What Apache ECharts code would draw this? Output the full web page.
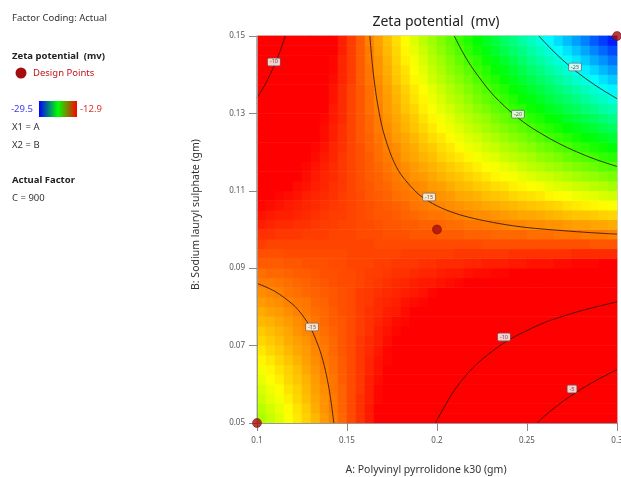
<!DOCTYPE html>
<html><head><meta charset="utf-8">
<script src="https://cdn.jsdelivr.net/npm/echarts@6/dist/echarts.min.js"></script>
<style>html,body{margin:0;padding:0;background:#fff}#c{width:621px;height:477px}</style>
</head><body><div id="c"></div>
<script>
// Axis ticks
const xTicks = [0.1, 0.15, 0.2, 0.25, 0.3];
const yTicks = [0.05, 0.07, 0.09, 0.11, 0.13, 0.15];
// Grid cell centres (A across, B up)
const cellA = [0.1025,0.1075,0.1125,0.1175,0.1225,0.1275,0.1325,0.1375,0.1425,0.1475,0.1525,0.1575,0.1625,0.1675,0.1725,0.1775,0.1825,0.1875,0.1925,0.1975,0.2025,0.2075,0.2125,0.2175,0.2225,0.2275,0.2325,0.2375,0.2425,0.2475,0.2525,0.2575,0.2625,0.2675,0.2725,0.2775,0.2825,0.2875,0.2925,0.2975];
const cellB = [0.05125,0.05375,0.05625,0.05875,0.06125,0.06375,0.06625,0.06875,0.07125,0.07375,0.07625,0.07875,0.08125,0.08375,0.08625,0.08875,0.09125,0.09375,0.09625,0.09875,0.10125,0.10375,0.10625,0.10875,0.11125,0.11375,0.11625,0.11875,0.12125,0.12375,0.12625,0.12875,0.13125,0.13375,0.13625,0.13875,0.14125,0.14375,0.14625,0.14875];
// Zeta potential (mv) read from the surface; rows from bottom (B=0.05125) to top (B=0.14875)
const zGrid = [
[-18.4,-18.0,-17.6,-17.1,-16.7,-16.3,-15.9,-15.4,-15.0,-14.6,-14.1,-13.7,-13.3,-12.8,-12.4,-12.0,-11.5,-11.1,-10.7,-10.3,-9.8,-9.4,-9.0,-8.5,-8.1,-7.7,-7.2,-6.8,-6.4,-6.0,-5.5,-5.1,-4.7,-4.2,-3.8,-3.4,-2.9,-2.5,-2.1,-1.6],
[-18.2,-17.8,-17.4,-17.0,-16.6,-16.2,-15.7,-15.3,-14.9,-14.5,-14.1,-13.7,-13.3,-12.9,-12.5,-12.1,-11.7,-11.3,-10.9,-10.5,-10.1,-9.7,-9.3,-8.8,-8.4,-8.0,-7.6,-7.2,-6.8,-6.4,-6.0,-5.6,-5.2,-4.8,-4.4,-4.0,-3.6,-3.2,-2.8,-2.4],
[-17.9,-17.5,-17.2,-16.8,-16.4,-16.0,-15.6,-15.3,-14.9,-14.5,-14.1,-13.7,-13.4,-13.0,-12.6,-12.2,-11.8,-11.4,-11.1,-10.7,-10.3,-9.9,-9.5,-9.2,-8.8,-8.4,-8.0,-7.6,-7.2,-6.9,-6.5,-6.1,-5.7,-5.3,-5.0,-4.6,-4.2,-3.8,-3.4,-3.0],
[-17.7,-17.3,-17.0,-16.6,-16.3,-15.9,-15.5,-15.2,-14.8,-14.5,-14.1,-13.8,-13.4,-13.0,-12.7,-12.3,-12.0,-11.6,-11.3,-10.9,-10.5,-10.2,-9.8,-9.5,-9.1,-8.8,-8.4,-8.0,-7.7,-7.3,-7.0,-6.6,-6.3,-5.9,-5.5,-5.2,-4.8,-4.5,-4.1,-3.8],
[-17.4,-17.1,-16.8,-16.4,-16.1,-15.8,-15.4,-15.1,-14.8,-14.4,-14.1,-13.8,-13.4,-13.1,-12.8,-12.4,-12.1,-11.8,-11.4,-11.1,-10.8,-10.4,-10.1,-9.8,-9.4,-9.1,-8.8,-8.4,-8.1,-7.8,-7.4,-7.1,-6.8,-6.5,-6.1,-5.8,-5.5,-5.1,-4.8,-4.5],
[-17.2,-16.9,-16.6,-16.3,-16.0,-15.6,-15.3,-15.0,-14.7,-14.4,-14.1,-13.8,-13.5,-13.2,-12.9,-12.6,-12.3,-11.9,-11.6,-11.3,-11.0,-10.7,-10.4,-10.1,-9.8,-9.5,-9.2,-8.9,-8.6,-8.2,-7.9,-7.6,-7.3,-7.0,-6.7,-6.4,-6.1,-5.8,-5.5,-5.2],
[-16.9,-16.7,-16.4,-16.1,-15.8,-15.5,-15.2,-14.9,-14.7,-14.4,-14.1,-13.8,-13.5,-13.2,-13.0,-12.7,-12.4,-12.1,-11.8,-11.5,-11.3,-11.0,-10.7,-10.4,-10.1,-9.8,-9.5,-9.3,-9.0,-8.7,-8.4,-8.1,-7.8,-7.6,-7.3,-7.0,-6.7,-6.4,-6.1,-5.9],
[-16.7,-16.4,-16.2,-15.9,-15.6,-15.4,-15.1,-14.9,-14.6,-14.3,-14.1,-13.8,-13.6,-13.3,-13.0,-12.8,-12.5,-12.3,-12.0,-11.7,-11.5,-11.2,-11.0,-10.7,-10.4,-10.2,-9.9,-9.7,-9.4,-9.2,-8.9,-8.6,-8.4,-8.1,-7.9,-7.6,-7.3,-7.1,-6.8,-6.6],
[-16.4,-16.2,-16.0,-15.7,-15.5,-15.3,-15.0,-14.8,-14.6,-14.3,-14.1,-13.8,-13.6,-13.4,-13.1,-12.9,-12.7,-12.4,-12.2,-12.0,-11.7,-11.5,-11.3,-11.0,-10.8,-10.6,-10.3,-10.1,-9.8,-9.6,-9.4,-9.1,-8.9,-8.7,-8.4,-8.2,-8.0,-7.7,-7.5,-7.3],
[-16.2,-16.0,-15.8,-15.6,-15.3,-15.1,-14.9,-14.7,-14.5,-14.3,-14.1,-13.9,-13.7,-13.4,-13.2,-13.0,-12.8,-12.6,-12.4,-12.2,-12.0,-11.8,-11.6,-11.3,-11.1,-10.9,-10.7,-10.5,-10.3,-10.1,-9.9,-9.7,-9.4,-9.2,-9.0,-8.8,-8.6,-8.4,-8.2,-8.0],
[-15.9,-15.8,-15.6,-15.4,-15.2,-15.0,-14.8,-14.6,-14.4,-14.3,-14.1,-13.9,-13.7,-13.5,-13.3,-13.1,-13.0,-12.8,-12.6,-12.4,-12.2,-12.0,-11.8,-11.6,-11.5,-11.3,-11.1,-10.9,-10.7,-10.5,-10.3,-10.2,-10.0,-9.8,-9.6,-9.4,-9.2,-9.0,-8.8,-8.7],
[-15.7,-15.5,-15.4,-15.2,-15.0,-14.9,-14.7,-14.6,-14.4,-14.2,-14.1,-13.9,-13.7,-13.6,-13.4,-13.3,-13.1,-12.9,-12.8,-12.6,-12.4,-12.3,-12.1,-12.0,-11.8,-11.6,-11.5,-11.3,-11.1,-11.0,-10.8,-10.7,-10.5,-10.3,-10.2,-10.0,-9.9,-9.7,-9.5,-9.4],
[-15.4,-15.3,-15.2,-15.0,-14.9,-14.8,-14.6,-14.5,-14.3,-14.2,-14.1,-13.9,-13.8,-13.6,-13.5,-13.4,-13.2,-13.1,-13.0,-12.8,-12.7,-12.5,-12.4,-12.3,-12.1,-12.0,-11.9,-11.7,-11.6,-11.4,-11.3,-11.2,-11.0,-10.9,-10.8,-10.6,-10.5,-10.3,-10.2,-10.1],
[-15.2,-15.1,-15.0,-14.8,-14.7,-14.6,-14.5,-14.4,-14.3,-14.2,-14.1,-13.9,-13.8,-13.7,-13.6,-13.5,-13.4,-13.3,-13.2,-13.0,-12.9,-12.8,-12.7,-12.6,-12.5,-12.4,-12.2,-12.1,-12.0,-11.9,-11.8,-11.7,-11.6,-11.4,-11.3,-11.2,-11.1,-11.0,-10.9,-10.8],
[-14.9,-14.9,-14.8,-14.7,-14.6,-14.5,-14.4,-14.3,-14.2,-14.1,-14.1,-14.0,-13.9,-13.8,-13.7,-13.6,-13.5,-13.4,-13.3,-13.3,-13.2,-13.1,-13.0,-12.9,-12.8,-12.7,-12.6,-12.5,-12.5,-12.4,-12.3,-12.2,-12.1,-12.0,-11.9,-11.8,-11.7,-11.6,-11.6,-11.5],
[-14.7,-14.6,-14.6,-14.5,-14.4,-14.4,-14.3,-14.2,-14.2,-14.1,-14.1,-14.0,-13.9,-13.9,-13.8,-13.7,-13.7,-13.6,-13.5,-13.5,-13.4,-13.3,-13.3,-13.2,-13.1,-13.1,-13.0,-13.0,-12.9,-12.8,-12.8,-12.7,-12.6,-12.6,-12.5,-12.4,-12.4,-12.3,-12.2,-12.2],
[-14.4,-14.4,-14.4,-14.3,-14.3,-14.2,-14.2,-14.2,-14.1,-14.1,-14.0,-14.0,-14.0,-13.9,-13.9,-13.8,-13.8,-13.8,-13.7,-13.7,-13.6,-13.6,-13.6,-13.5,-13.5,-13.4,-13.4,-13.4,-13.3,-13.3,-13.2,-13.2,-13.2,-13.1,-13.1,-13.0,-13.0,-13.0,-12.9,-12.9],
[-14.2,-14.2,-14.2,-14.1,-14.1,-14.1,-14.1,-14.1,-14.1,-14.1,-14.0,-14.0,-14.0,-14.0,-14.0,-14.0,-13.9,-13.9,-13.9,-13.9,-13.9,-13.9,-13.8,-13.8,-13.8,-13.8,-13.8,-13.8,-13.7,-13.7,-13.7,-13.7,-13.7,-13.7,-13.7,-13.6,-13.6,-13.6,-13.6,-13.6],
[-13.9,-14.0,-14.0,-14.0,-14.0,-14.0,-14.0,-14.0,-14.0,-14.0,-14.0,-14.0,-14.0,-14.1,-14.1,-14.1,-14.1,-14.1,-14.1,-14.1,-14.1,-14.1,-14.1,-14.1,-14.1,-14.2,-14.2,-14.2,-14.2,-14.2,-14.2,-14.2,-14.2,-14.2,-14.2,-14.2,-14.2,-14.3,-14.3,-14.3],
[-13.7,-13.7,-13.8,-13.8,-13.8,-13.9,-13.9,-13.9,-14.0,-14.0,-14.0,-14.1,-14.1,-14.1,-14.2,-14.2,-14.2,-14.3,-14.3,-14.3,-14.4,-14.4,-14.4,-14.5,-14.5,-14.5,-14.6,-14.6,-14.6,-14.6,-14.7,-14.7,-14.7,-14.8,-14.8,-14.8,-14.9,-14.9,-14.9,-15.0],
[-13.4,-13.5,-13.6,-13.6,-13.7,-13.7,-13.8,-13.9,-13.9,-14.0,-14.0,-14.1,-14.1,-14.2,-14.3,-14.3,-14.4,-14.4,-14.5,-14.5,-14.6,-14.7,-14.7,-14.8,-14.8,-14.9,-14.9,-15.0,-15.1,-15.1,-15.2,-15.2,-15.3,-15.3,-15.4,-15.5,-15.5,-15.6,-15.6,-15.7],
[-13.2,-13.3,-13.4,-13.4,-13.5,-13.6,-13.7,-13.8,-13.9,-13.9,-14.0,-14.1,-14.2,-14.3,-14.3,-14.4,-14.5,-14.6,-14.7,-14.8,-14.8,-14.9,-15.0,-15.1,-15.2,-15.2,-15.3,-15.4,-15.5,-15.6,-15.6,-15.7,-15.8,-15.9,-16.0,-16.1,-16.1,-16.2,-16.3,-16.4],
[-13.0,-13.1,-13.2,-13.3,-13.4,-13.5,-13.6,-13.7,-13.8,-13.9,-14.0,-14.1,-14.2,-14.3,-14.4,-14.5,-14.6,-14.8,-14.9,-15.0,-15.1,-15.2,-15.3,-15.4,-15.5,-15.6,-15.7,-15.8,-15.9,-16.0,-16.1,-16.2,-16.3,-16.4,-16.6,-16.7,-16.8,-16.9,-17.0,-17.1],
[-12.7,-12.8,-13.0,-13.1,-13.2,-13.4,-13.5,-13.6,-13.7,-13.9,-14.0,-14.1,-14.3,-14.4,-14.5,-14.7,-14.8,-14.9,-15.1,-15.2,-15.3,-15.4,-15.6,-15.7,-15.8,-16.0,-16.1,-16.2,-16.4,-16.5,-16.6,-16.7,-16.9,-17.0,-17.1,-17.3,-17.4,-17.5,-17.7,-17.8],
[-12.5,-12.6,-12.8,-12.9,-13.1,-13.2,-13.4,-13.5,-13.7,-13.8,-14.0,-14.2,-14.3,-14.5,-14.6,-14.8,-14.9,-15.1,-15.2,-15.4,-15.5,-15.7,-15.9,-16.0,-16.2,-16.3,-16.5,-16.6,-16.8,-16.9,-17.1,-17.2,-17.4,-17.6,-17.7,-17.9,-18.0,-18.2,-18.3,-18.5],
[-12.2,-12.4,-12.6,-12.7,-12.9,-13.1,-13.3,-13.5,-13.6,-13.8,-14.0,-14.2,-14.4,-14.5,-14.7,-14.9,-15.1,-15.3,-15.4,-15.6,-15.8,-16.0,-16.1,-16.3,-16.5,-16.7,-16.9,-17.0,-17.2,-17.4,-17.6,-17.8,-17.9,-18.1,-18.3,-18.5,-18.7,-18.8,-19.0,-19.2],
[-12.0,-12.2,-12.4,-12.6,-12.8,-13.0,-13.2,-13.4,-13.6,-13.8,-14.0,-14.2,-14.4,-14.6,-14.8,-15.0,-15.2,-15.4,-15.6,-15.8,-16.0,-16.2,-16.4,-16.6,-16.8,-17.0,-17.2,-17.4,-17.6,-17.9,-18.1,-18.3,-18.5,-18.7,-18.9,-19.1,-19.3,-19.5,-19.7,-19.9],
[-11.7,-11.9,-12.2,-12.4,-12.6,-12.8,-13.1,-13.3,-13.5,-13.8,-14.0,-14.2,-14.4,-14.7,-14.9,-15.1,-15.4,-15.6,-15.8,-16.0,-16.3,-16.5,-16.7,-16.9,-17.2,-17.4,-17.6,-17.9,-18.1,-18.3,-18.5,-18.8,-19.0,-19.2,-19.5,-19.7,-19.9,-20.1,-20.4,-20.6],
[-11.5,-11.7,-12.0,-12.2,-12.5,-12.7,-13.0,-13.2,-13.5,-13.7,-14.0,-14.2,-14.5,-14.7,-15.0,-15.2,-15.5,-15.7,-16.0,-16.2,-16.5,-16.7,-17.0,-17.3,-17.5,-17.8,-18.0,-18.3,-18.5,-18.8,-19.0,-19.3,-19.5,-19.8,-20.0,-20.3,-20.5,-20.8,-21.0,-21.3],
[-11.2,-11.5,-11.8,-12.0,-12.3,-12.6,-12.9,-13.1,-13.4,-13.7,-14.0,-14.3,-14.5,-14.8,-15.1,-15.4,-15.6,-15.9,-16.2,-16.5,-16.7,-17.0,-17.3,-17.6,-17.8,-18.1,-18.4,-18.7,-19.0,-19.2,-19.5,-19.8,-20.1,-20.3,-20.6,-20.9,-21.2,-21.4,-21.7,-22.0],
[-11.0,-11.3,-11.6,-11.9,-12.2,-12.5,-12.8,-13.1,-13.4,-13.7,-14.0,-14.3,-14.6,-14.9,-15.2,-15.5,-15.8,-16.1,-16.4,-16.7,-17.0,-17.3,-17.6,-17.9,-18.2,-18.5,-18.8,-19.1,-19.4,-19.7,-20.0,-20.3,-20.6,-20.9,-21.2,-21.5,-21.8,-22.1,-22.4,-22.7],
[-10.7,-11.0,-11.4,-11.7,-12.0,-12.3,-12.7,-13.0,-13.3,-13.6,-14.0,-14.3,-14.6,-14.9,-15.3,-15.6,-15.9,-16.2,-16.6,-16.9,-17.2,-17.5,-17.9,-18.2,-18.5,-18.8,-19.2,-19.5,-19.8,-20.1,-20.5,-20.8,-21.1,-21.4,-21.8,-22.1,-22.4,-22.7,-23.1,-23.4],
[-10.5,-10.8,-11.2,-11.5,-11.9,-12.2,-12.6,-12.9,-13.3,-13.6,-14.0,-14.3,-14.7,-15.0,-15.4,-15.7,-16.1,-16.4,-16.8,-17.1,-17.5,-17.8,-18.2,-18.5,-18.9,-19.2,-19.6,-19.9,-20.3,-20.6,-21.0,-21.3,-21.7,-22.0,-22.4,-22.7,-23.1,-23.4,-23.8,-24.1],
[-10.2,-10.6,-11.0,-11.3,-11.7,-12.1,-12.5,-12.8,-13.2,-13.6,-14.0,-14.3,-14.7,-15.1,-15.4,-15.8,-16.2,-16.6,-16.9,-17.3,-17.7,-18.1,-18.4,-18.8,-19.2,-19.6,-19.9,-20.3,-20.7,-21.1,-21.4,-21.8,-22.2,-22.6,-22.9,-23.3,-23.7,-24.1,-24.4,-24.8],
[-10.0,-10.4,-10.8,-11.2,-11.6,-12.0,-12.4,-12.8,-13.2,-13.6,-14.0,-14.3,-14.7,-15.1,-15.5,-15.9,-16.3,-16.7,-17.1,-17.5,-17.9,-18.3,-18.7,-19.1,-19.5,-19.9,-20.3,-20.7,-21.1,-21.5,-21.9,-22.3,-22.7,-23.1,-23.5,-23.9,-24.3,-24.7,-25.1,-25.5],
[-9.7,-10.1,-10.6,-11.0,-11.4,-11.8,-12.3,-12.7,-13.1,-13.5,-13.9,-14.4,-14.8,-15.2,-15.6,-16.1,-16.5,-16.9,-17.3,-17.8,-18.2,-18.6,-19.0,-19.4,-19.9,-20.3,-20.7,-21.1,-21.6,-22.0,-22.4,-22.8,-23.2,-23.7,-24.1,-24.5,-24.9,-25.4,-25.8,-26.2],
[-9.5,-9.9,-10.4,-10.8,-11.3,-11.7,-12.1,-12.6,-13.0,-13.5,-13.9,-14.4,-14.8,-15.3,-15.7,-16.2,-16.6,-17.1,-17.5,-18.0,-18.4,-18.9,-19.3,-19.7,-20.2,-20.6,-21.1,-21.5,-22.0,-22.4,-22.9,-23.3,-23.8,-24.2,-24.7,-25.1,-25.6,-26.0,-26.5,-26.9],
[-9.2,-9.7,-10.2,-10.6,-11.1,-11.6,-12.0,-12.5,-13.0,-13.5,-13.9,-14.4,-14.9,-15.3,-15.8,-16.3,-16.8,-17.2,-17.7,-18.2,-18.6,-19.1,-19.6,-20.1,-20.5,-21.0,-21.5,-21.9,-22.4,-22.9,-23.4,-23.8,-24.3,-24.8,-25.2,-25.7,-26.2,-26.7,-27.1,-27.6],
[-9.0,-9.5,-10.0,-10.5,-10.9,-11.4,-11.9,-12.4,-12.9,-13.4,-13.9,-14.4,-14.9,-15.4,-15.9,-16.4,-16.9,-17.4,-17.9,-18.4,-18.9,-19.4,-19.9,-20.4,-20.9,-21.4,-21.9,-22.4,-22.9,-23.3,-23.8,-24.3,-24.8,-25.3,-25.8,-26.3,-26.8,-27.3,-27.8,-28.3],
[-8.7,-9.2,-9.8,-10.3,-10.8,-11.3,-11.8,-12.4,-12.9,-13.4,-13.9,-14.4,-15.0,-15.5,-16.0,-16.5,-17.0,-17.6,-18.1,-18.6,-19.1,-19.6,-20.2,-20.7,-21.2,-21.7,-22.2,-22.8,-23.3,-23.8,-24.3,-24.8,-25.4,-25.9,-26.4,-26.9,-27.4,-28.0,-28.5,-29.0]
];
// Colour scale limits
const zMin = -29.5, zMax = -12.9;
// Design points [A, B]
const designPoints = [[0.1, 0.05], [0.2, 0.1], [0.3, 0.15]];
// Contour lines [A, B]
const contourM25 = [[0.2566,0.15],[0.265,0.1459],[0.275,0.1417],[0.285,0.1382],[0.2925,0.1359],[0.3,0.1338]];
const contourM20 = [[0.2096,0.15],[0.215,0.1452],[0.22,0.1415],[0.23,0.1354],[0.24,0.1308],[0.25,0.1271],[0.26,0.1242],[0.27,0.1217],[0.28,0.1196],[0.29,0.1178],[0.3,0.1163]];
const contourM15a = [[0.1627,0.15],[0.1635,0.1455],[0.164,0.1431],[0.165,0.1389],[0.167,0.1324],[0.17,0.1256],[0.175,0.1186],[0.18,0.1142],[0.19,0.1090],[0.2,0.1061],[0.21,0.1042],[0.22,0.1029],[0.235,0.1015],[0.25,0.1005],[0.27,0.0997],[0.285,0.0992],[0.3,0.0988]];
const contourM15b = [[0.1,0.0861],[0.11,0.084],[0.12,0.0806],[0.125,0.0780],[0.13,0.0744],[0.135,0.0687],[0.138,0.0636],[0.14,0.0589],[0.1415,0.0543],[0.1427,0.05]];
const contourM10a = [[0.1,0.1340],[0.105,0.1379],[0.11,0.1428],[0.113,0.1463],[0.1157,0.15]];
const contourM10b = [[0.1992,0.05],[0.2,0.0508],[0.21,0.0587],[0.22,0.0643],[0.23,0.0683],[0.24,0.0715],[0.25,0.0739],[0.26,0.076],[0.27,0.0776],[0.28,0.079],[0.29,0.0802],[0.3,0.0813]];
const contourM5 = [[0.2557,0.05],[0.26,0.0519],[0.27,0.0556],[0.28,0.0587],[0.29,0.0614],[0.3,0.0638]];
// Contour labels [A, B, text]
const contourLabels = [[0.1094,0.1433,'-10'],[0.1956,0.1084,'-15'],[0.245,0.1298,'-20'],[0.2767,0.142,'-25'],[0.1306,0.0748,'-15'],[0.2372,0.0722,'-10'],[0.275,0.0588,'-5']];

const FONT = "'Noto Sans', 'Open Sans', sans-serif";
const heatData = [];
zGrid.forEach((row, j) => row.forEach((v, i) => heatData.push([i, j, v])));

const contourLine = (d) => ({
  type: 'line', data: d, xAxisIndex: 0, yAxisIndex: 0, showSymbol: false, symbol: 'none',
  smooth: 0.3, lineStyle: { color: 'rgba(45,25,15,0.85)', width: 1 }, z: 3, silent: true
});

const chart = echarts.init(document.getElementById('c'), null, { renderer: 'canvas' });
chart.setOption({
  backgroundColor: '#fff',
  animation: false,
  grid: { left: 257, top: 36, width: 360, height: 387, containLabel: false, outerBoundsMode: 'none',
          show: true, borderColor: '#aaa', borderWidth: 1, backgroundColor: 'transparent' },
  visualMap: {
    show: false, type: 'continuous', min: zMin, max: zMax, seriesIndex: 0, dimension: 2,
    inRange: { color: ['#0000ff', '#00ffff', '#00ff00', '#ffff00', '#ff0000'] }
  },
  xAxis: [
    {
      type: 'value', min: xTicks[0], max: xTicks[xTicks.length - 1], interval: 0.05,
      name: 'A: Polyvinyl pyrrolidone k30 (gm)', nameLocation: 'middle', nameGap: 42,
      nameTextStyle: { fontFamily: FONT, fontSize: 10.5, color: '#333', padding: [0, 22, 0, 0] },
      axisLine: { show: true, lineStyle: { color: '#999' } },
      axisTick: { show: true, length: 8, lineStyle: { color: '#888' } },
      axisLabel: { fontFamily: FONT, fontSize: 8, color: '#555', margin: 14, formatter: v => String(+v.toFixed(2)) },
      splitLine: { show: false }, z: 5
    },
    { type: 'category', data: cellA.map(String), show: false, gridIndex: 0 }
  ],
  yAxis: [
    {
      type: 'value', min: yTicks[0], max: yTicks[yTicks.length - 1], interval: 0.02,
      name: 'B: Sodium lauryl sulphate (gm)', nameLocation: 'middle', nameGap: 55, nameRotate: 90,
      nameTextStyle: { fontFamily: FONT, fontSize: 10.5, color: '#333', padding: [0, 0, 0, 30] },
      axisLine: { show: true, lineStyle: { color: '#999' } },
      axisTick: { show: true, length: 8, lineStyle: { color: '#888' } },
      axisLabel: { fontFamily: FONT, fontSize: 8, color: '#555', margin: 12, formatter: v => (+v).toFixed(2) },
      splitLine: { show: false }, z: 5
    },
    { type: 'category', data: cellB.map(String), show: false, gridIndex: 0 }
  ],
  series: [
    {
      type: 'heatmap', xAxisIndex: 1, yAxisIndex: 1, data: heatData, silent: true,
      itemStyle: { borderWidth: 0 }, progressive: 0, z: 1
    },
    contourLine(contourM25), contourLine(contourM20), contourLine(contourM15a), contourLine(contourM15b),
    contourLine(contourM10a), contourLine(contourM10b), contourLine(contourM5),
    {
      type: 'scatter', data: contourLabels, xAxisIndex: 0, yAxisIndex: 0, symbolSize: 0, z: 4, silent: true,
      label: {
        show: true, position: 'inside', formatter: p => p.value[2], fontFamily: FONT, fontSize: 5.5, color: '#333',
        backgroundColor: '#fff', borderColor: '#666', borderWidth: 0.8, padding: [1, 2, 0, 2], borderRadius: 1
      }
    },
    {
      type: 'scatter', data: designPoints, xAxisIndex: 0, yAxisIndex: 0, symbol: 'circle', symbolSize: 9,
      clip: false, z: 6, silent: true,
      itemStyle: { color: '#a50e0e', borderColor: '#6a0000', borderWidth: 0.6 }
    }
  ],
  graphic: [
    { type: 'text', x: 436, y: 22, style: { text: 'Zeta potential  (mv)', fill: '#222', font: '14px ' + FONT, align: 'center', verticalAlign: 'middle' } },
    { type: 'text', x: 12, y: 18, style: { text: 'Factor Coding: Actual', fill: '#333', font: '9.5px ' + FONT, verticalAlign: 'middle' } },
    { type: 'text', x: 12, y: 56, style: { text: 'Zeta potential  (mv)', fill: '#222', font: 'bold 9.5px ' + FONT, verticalAlign: 'middle' } },
    { type: 'circle', shape: { cx: 21, cy: 73, r: 5.5 }, style: { fill: '#a50e0e' } },
    { type: 'text', x: 33, y: 73, style: { text: 'Design Points', fill: '#c0141c', font: '9.5px ' + FONT, verticalAlign: 'middle' } },
    { type: 'text', x: 11, y: 109, style: { text: '-29.5', fill: '#3b3bf0', font: '9.5px ' + FONT, verticalAlign: 'middle' } },
    { type: 'rect', shape: { x: 39, y: 101, width: 38, height: 16 }, style: { fill: new echarts.graphic.LinearGradient(0, 0, 1, 0, [
      { offset: 0, color: '#0000ff' }, { offset: 0.5, color: '#00ff00' }, { offset: 1, color: '#ff0000' }]) } },
    { type: 'text', x: 80, y: 109, style: { text: '-12.9', fill: '#e0302a', font: '9.5px ' + FONT, verticalAlign: 'middle' } },
    { type: 'text', x: 12, y: 127, style: { text: 'X1 = A', fill: '#333', font: '9.5px ' + FONT, verticalAlign: 'middle' } },
    { type: 'text', x: 12, y: 145, style: { text: 'X2 = B', fill: '#333', font: '9.5px ' + FONT, verticalAlign: 'middle' } },
    { type: 'text', x: 12, y: 180, style: { text: 'Actual Factor', fill: '#222', font: 'bold 9.5px ' + FONT, verticalAlign: 'middle' } },
    { type: 'text', x: 12, y: 198, style: { text: 'C = 900', fill: '#333', font: '9.5px ' + FONT, verticalAlign: 'middle' } }
  ]
});
</script></body></html>
